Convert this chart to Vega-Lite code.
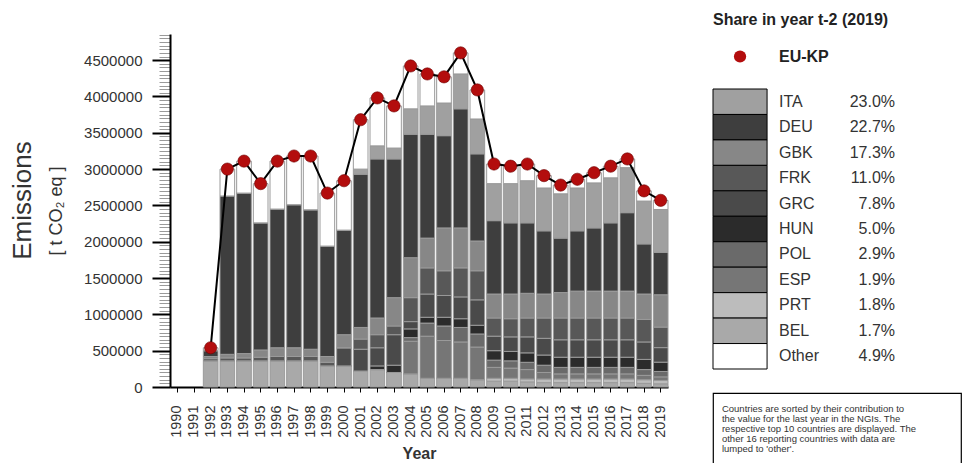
{
  "$schema": "https://vega.github.io/schema/vega-lite/v6.json",
  "padding": {"left": 9, "top": 12, "right": 0, "bottom": 0},
  "bounds": "flush",
  "spacing": 45,
  "config": {
    "view": {"stroke": null},
    "font": "Liberation Sans",
    "axis": {"labelFont": "Liberation Sans", "titleFont": "Liberation Sans"}
  },
  "hconcat": [
    {
      "width": 498,
      "height": 353,
      "data": {
        "values": [
          {"year": 1992, "BEL": 360000, "PRT": 0, "ESP": 0, "POL": 0, "HUN": 0, "GRC": 0, "FRK": 30000, "GBK": 30000, "DEU": 80000, "ITA": 0, "Other": 40000, "total": 540000},
          {"year": 1993, "BEL": 360000, "PRT": 0, "ESP": 0, "POL": 0, "HUN": 0, "GRC": 0, "FRK": 40000, "GBK": 50000, "DEU": 2180000, "ITA": 0, "Other": 370000, "total": 3000000},
          {"year": 1994, "BEL": 360000, "PRT": 0, "ESP": 0, "POL": 0, "HUN": 0, "GRC": 0, "FRK": 40000, "GBK": 60000, "DEU": 2210000, "ITA": 0, "Other": 440000, "total": 3110000},
          {"year": 1995, "BEL": 360000, "PRT": 0, "ESP": 0, "POL": 0, "HUN": 0, "GRC": 0, "FRK": 50000, "GBK": 100000, "DEU": 1750000, "ITA": 0, "Other": 540000, "total": 2800000},
          {"year": 1996, "BEL": 360000, "PRT": 0, "ESP": 0, "POL": 0, "HUN": 0, "GRC": 0, "FRK": 60000, "GBK": 120000, "DEU": 1910000, "ITA": 0, "Other": 660000, "total": 3110000},
          {"year": 1997, "BEL": 360000, "PRT": 0, "ESP": 0, "POL": 0, "HUN": 0, "GRC": 0, "FRK": 60000, "GBK": 120000, "DEU": 1970000, "ITA": 0, "Other": 670000, "total": 3180000},
          {"year": 1998, "BEL": 360000, "PRT": 0, "ESP": 0, "POL": 0, "HUN": 0, "GRC": 0, "FRK": 60000, "GBK": 100000, "DEU": 1920000, "ITA": 0, "Other": 740000, "total": 3180000},
          {"year": 1999, "BEL": 290000, "PRT": 0, "ESP": 0, "POL": 0, "HUN": 0, "GRC": 0, "FRK": 50000, "GBK": 80000, "DEU": 1520000, "ITA": 0, "Other": 730000, "total": 2670000},
          {"year": 2000, "BEL": 290000, "PRT": 0, "ESP": 0, "POL": 0, "HUN": 0, "GRC": 250000, "FRK": 0, "GBK": 180000, "DEU": 1440000, "ITA": 0, "Other": 680000, "total": 2840000},
          {"year": 2001, "BEL": 220000, "PRT": 0, "ESP": 0, "POL": 0, "HUN": 0, "GRC": 300000, "FRK": 140000, "GBK": 160000, "DEU": 2110000, "ITA": 70000, "Other": 680000, "total": 3680000},
          {"year": 2002, "BEL": 240000, "PRT": 0, "ESP": 0, "POL": 0, "HUN": 50000, "GRC": 250000, "FRK": 180000, "GBK": 230000, "DEU": 2190000, "ITA": 180000, "Other": 660000, "total": 3980000},
          {"year": 2003, "BEL": 200000, "PRT": 0, "ESP": 0, "POL": 0, "HUN": 100000, "GRC": 420000, "FRK": 120000, "GBK": 390000, "DEU": 1910000, "ITA": 150000, "Other": 580000, "total": 3870000},
          {"year": 2004, "BEL": 180000, "PRT": 0, "ESP": 450000, "POL": 50000, "HUN": 120000, "GRC": 100000, "FRK": 330000, "GBK": 550000, "DEU": 1700000, "ITA": 350000, "Other": 590000, "total": 4420000},
          {"year": 2005, "BEL": 120000, "PRT": 0, "ESP": 580000, "POL": 180000, "HUN": 80000, "GRC": 320000, "FRK": 360000, "GBK": 410000, "DEU": 1430000, "ITA": 390000, "Other": 440000, "total": 4310000},
          {"year": 2006, "BEL": 120000, "PRT": 0, "ESP": 520000, "POL": 200000, "HUN": 120000, "GRC": 300000, "FRK": 340000, "GBK": 590000, "DEU": 1270000, "ITA": 450000, "Other": 360000, "total": 4270000},
          {"year": 2007, "BEL": 120000, "PRT": 0, "ESP": 500000, "POL": 200000, "HUN": 120000, "GRC": 300000, "FRK": 400000, "GBK": 550000, "DEU": 1640000, "ITA": 480000, "Other": 290000, "total": 4600000},
          {"year": 2008, "BEL": 100000, "PRT": 0, "ESP": 450000, "POL": 180000, "HUN": 120000, "GRC": 350000, "FRK": 400000, "GBK": 410000, "DEU": 1200000, "ITA": 480000, "Other": 400000, "total": 4090000},
          {"year": 2009, "BEL": 80000, "PRT": 40000, "ESP": 150000, "POL": 100000, "HUN": 130000, "GRC": 200000, "FRK": 250000, "GBK": 330000, "DEU": 1010000, "ITA": 510000, "Other": 270000, "total": 3070000},
          {"year": 2010, "BEL": 80000, "PRT": 40000, "ESP": 140000, "POL": 100000, "HUN": 130000, "GRC": 200000, "FRK": 250000, "GBK": 340000, "DEU": 980000, "ITA": 540000, "Other": 240000, "total": 3040000},
          {"year": 2011, "BEL": 70000, "PRT": 40000, "ESP": 130000, "POL": 100000, "HUN": 130000, "GRC": 220000, "FRK": 260000, "GBK": 340000, "DEU": 970000, "ITA": 580000, "Other": 230000, "total": 3070000},
          {"year": 2012, "BEL": 60000, "PRT": 50000, "ESP": 90000, "POL": 100000, "HUN": 140000, "GRC": 230000, "FRK": 280000, "GBK": 330000, "DEU": 870000, "ITA": 590000, "Other": 170000, "total": 2910000},
          {"year": 2013, "BEL": 60000, "PRT": 50000, "ESP": 70000, "POL": 90000, "HUN": 140000, "GRC": 240000, "FRK": 300000, "GBK": 350000, "DEU": 750000, "ITA": 610000, "Other": 120000, "total": 2780000},
          {"year": 2014, "BEL": 60000, "PRT": 50000, "ESP": 70000, "POL": 90000, "HUN": 140000, "GRC": 240000, "FRK": 300000, "GBK": 370000, "DEU": 830000, "ITA": 590000, "Other": 120000, "total": 2860000},
          {"year": 2015, "BEL": 60000, "PRT": 50000, "ESP": 70000, "POL": 90000, "HUN": 140000, "GRC": 240000, "FRK": 300000, "GBK": 370000, "DEU": 870000, "ITA": 620000, "Other": 140000, "total": 2950000},
          {"year": 2016, "BEL": 60000, "PRT": 50000, "ESP": 70000, "POL": 90000, "HUN": 140000, "GRC": 240000, "FRK": 300000, "GBK": 370000, "DEU": 940000, "ITA": 620000, "Other": 160000, "total": 3040000},
          {"year": 2017, "BEL": 60000, "PRT": 50000, "ESP": 70000, "POL": 90000, "HUN": 140000, "GRC": 240000, "FRK": 300000, "GBK": 370000, "DEU": 1080000, "ITA": 620000, "Other": 120000, "total": 3140000},
          {"year": 2018, "BEL": 50000, "PRT": 50000, "ESP": 60000, "POL": 80000, "HUN": 140000, "GRC": 240000, "FRK": 310000, "GBK": 350000, "DEU": 690000, "ITA": 590000, "Other": 140000, "total": 2700000},
          {"year": 2019, "BEL": 44000, "PRT": 46000, "ESP": 49000, "POL": 75000, "HUN": 128000, "GRC": 200000, "FRK": 283000, "GBK": 445000, "DEU": 583000, "ITA": 591000, "Other": 126000, "total": 2570000}
        ]
      },
      "resolve": {"axis": {"y": "independent"}},
      "layer": [
        {
          "transform": [
            {"fold": ["BEL", "PRT", "ESP", "POL", "HUN", "GRC", "FRK", "GBK", "DEU", "ITA", "Other"], "as": ["country", "value"]},
            {"lookup": "country", "from": {"data": {"values": [
              {"country": "BEL", "rank": 1}, {"country": "PRT", "rank": 2}, {"country": "ESP", "rank": 3}, {"country": "POL", "rank": 4},
              {"country": "HUN", "rank": 5}, {"country": "GRC", "rank": 6}, {"country": "FRK", "rank": 7}, {"country": "GBK", "rank": 8},
              {"country": "DEU", "rank": 9}, {"country": "ITA", "rank": 10}, {"country": "Other", "rank": 11}
            ]}, "key": "country", "fields": ["rank"]}}
          ],
          "mark": {"type": "bar", "stroke": "#9a9a9a", "strokeWidth": 1},
          "encoding": {
            "x": {
              "field": "year", "type": "ordinal",
              "scale": {"domain": [1990,1991,1992,1993,1994,1995,1996,1997,1998,1999,2000,2001,2002,2003,2004,2005,2006,2007,2008,2009,2010,2011,2012,2013,2014,2015,2016,2017,2018,2019], "paddingInner": 0.12, "paddingOuter": 0},
              "axis": {"title": "Year", "titleFontSize": 16, "titleFontWeight": "bold", "titleColor": "#333", "titlePadding": 8, "labelAngle": 270, "labelAlign": "right", "labelBaseline": "middle", "labelFontSize": 14.5, "labelPadding": 13, "labelColor": "#333", "labelOverlap": false, "tickSize": 5, "tickColor": "#000", "domainColor": "#000", "domainWidth": 2}
            },
            "y": {
              "field": "value", "type": "quantitative", "stack": "zero",
              "scale": {"domain": [0, 4860000], "nice": false},
              "axis": {
                "orient": "left",
                "title": "[ t CO₂ eq ]", "titleFontSize": 18, "titleFontWeight": "normal", "titleColor": "#333", "titlePadding": 18,
                "values": [0,50000,100000,150000,200000,250000,300000,350000,400000,450000,500000,550000,600000,650000,700000,750000,800000,850000,900000,950000,1000000,1050000,1100000,1150000,1200000,1250000,1300000,1350000,1400000,1450000,1500000,1550000,1600000,1650000,1700000,1750000,1800000,1850000,1900000,1950000,2000000,2050000,2100000,2150000,2200000,2250000,2300000,2350000,2400000,2450000,2500000,2550000,2600000,2650000,2700000,2750000,2800000,2850000,2900000,2950000,3000000,3050000,3100000,3150000,3200000,3250000,3300000,3350000,3400000,3450000,3500000,3550000,3600000,3650000,3700000,3750000,3800000,3850000,3900000,3950000,4000000,4050000,4100000,4150000,4200000,4250000,4300000,4350000,4400000,4450000,4500000,4550000,4600000,4650000,4700000,4750000,4800000,4850000],
                "format": "d",
                "labelExpr": "datum.value % 500000 === 0 ? datum.label : ''",
                "labelFontSize": 15, "labelColor": "#333", "labelPadding": 10, "labelOverlap": false,
                "tickSize": 18,
                "tickColor": {"condition": {"test": "datum.value % 500000 === 0", "value": "#000"}, "value": "#9a9a9a"},
                "tickWidth": {"condition": {"test": "datum.value % 500000 === 0", "value": 2}, "value": 1},
                "tickDash": {"condition": {"test": "datum.value % 500000 === 0", "value": [100, 0]}, "value": [11, 40]},
                "domainColor": "#000", "domainWidth": 2, "grid": false
              }
            },
            "color": {
              "field": "country", "type": "nominal",
              "scale": {"domain": ["BEL", "PRT", "ESP", "POL", "HUN", "GRC", "FRK", "GBK", "DEU", "ITA", "Other"], "range": ["#a9a9a9", "#bcbcbc", "#767676", "#6a6a6a", "#2b2b2b", "#4a4a4a", "#585858", "#878787", "#3e3e3e", "#a0a0a0", "#ffffff"]},
              "legend": null
            },
            "order": {"field": "rank", "type": "quantitative", "sort": "ascending"}
          }
        },
        {
          "mark": {"type": "line", "color": "#000", "strokeWidth": 2},
          "encoding": {
            "x": {"field": "year", "type": "ordinal"},
            "y": {"field": "total", "type": "quantitative", "axis": {"orient": "left", "title": "Emissions", "titleFontSize": 26, "titleFontWeight": "normal", "titleColor": "#333", "titlePadding": 135, "titleY": 166, "labels": false, "ticks": false, "domain": false, "grid": false}}
          }
        },
        {
          "mark": {"type": "circle", "size": 150, "color": "#b30d0d", "opacity": 1, "stroke": "#6d0000", "strokeWidth": 0.6},
          "encoding": {
            "x": {"field": "year", "type": "ordinal"},
            "y": {"field": "total", "type": "quantitative", "axis": null}
          }
        }
      ]
    },
    {
      "bounds": "flush",
      "spacing": 24,
      "vconcat": [
        {
          "width": 248,
          "height": 31,
          "title": {"text": "Share in year t-2 (2019)", "anchor": "start", "frame": "group", "fontSize": 16, "fontWeight": "bold", "color": "#222", "offset": 6},
          "data": {"values": [{"series": "EU-KP"}]},
          "layer": [
            {
              "mark": {"type": "circle", "size": 150, "color": "#b30d0d", "opacity": 1, "yOffset": 7},
              "encoding": {"x": {"datum": 0.109, "type": "quantitative", "scale": {"domain": [0, 1]}, "axis": null}}
            },
            {
              "mark": {"type": "text", "align": "left", "baseline": "middle", "fontSize": 16, "fontWeight": "bold", "color": "#222", "yOffset": 7},
              "encoding": {"x": {"datum": 0.266, "type": "quantitative", "scale": {"domain": [0, 1]}, "axis": null}, "text": {"field": "series"}}
            }
          ]
        },
        {
          "width": 248,
          "height": 280,
          "data": {
            "values": [
              {"country": "ITA", "share": 0.230},
              {"country": "DEU", "share": 0.227},
              {"country": "GBK", "share": 0.173},
              {"country": "FRK", "share": 0.110},
              {"country": "GRC", "share": 0.078},
              {"country": "HUN", "share": 0.050},
              {"country": "POL", "share": 0.029},
              {"country": "ESP", "share": 0.019},
              {"country": "PRT", "share": 0.018},
              {"country": "BEL", "share": 0.017},
              {"country": "Other", "share": 0.049}
            ]
          },
          "encoding": {
            "y": {"field": "country", "type": "nominal", "scale": {"domain": ["ITA", "DEU", "GBK", "FRK", "GRC", "HUN", "POL", "ESP", "PRT", "BEL", "Other"], "paddingInner": 0, "paddingOuter": 0}, "axis": null}
          },
          "layer": [
            {
              "mark": {"type": "rect", "stroke": "#000", "strokeWidth": 1},
              "encoding": {
                "x": {"datum": 0, "type": "quantitative", "scale": {"domain": [0, 1]}, "axis": null},
                "x2": {"datum": 0.218},
                "fill": {"field": "country", "type": "nominal", "scale": {"domain": ["BEL", "PRT", "ESP", "POL", "HUN", "GRC", "FRK", "GBK", "DEU", "ITA", "Other"], "range": ["#a9a9a9", "#bcbcbc", "#767676", "#6a6a6a", "#2b2b2b", "#4a4a4a", "#585858", "#878787", "#3e3e3e", "#a0a0a0", "#ffffff"]}, "legend": null}
              }
            },
            {
              "mark": {"type": "text", "align": "left", "baseline": "middle", "fontSize": 16, "color": "#333"},
              "encoding": {"x": {"datum": 0.266, "type": "quantitative", "scale": {"domain": [0, 1]}, "axis": null}, "text": {"field": "country"}}
            },
            {
              "mark": {"type": "text", "align": "right", "baseline": "middle", "fontSize": 16, "color": "#333"},
              "encoding": {"x": {"datum": 0.734, "type": "quantitative", "scale": {"domain": [0, 1]}, "axis": null}, "text": {"field": "share", "type": "quantitative", "format": ".1%"}}
            }
          ]
        },
        {
          "width": 248,
          "height": 71,
          "view": {"stroke": "#000", "strokeWidth": 1.2},
          "data": {"values": [{"note": "Countries are sorted by their contribution to the value for the last year in the NGIs. The respective top 10 countries are displayed. The other 16 reporting countries with data are lumped to 'other'."}]},
          "mark": {"type": "text", "align": "left", "baseline": "middle", "fontSize": 9.5, "lineHeight": 10, "color": "#333", "yOffset": -20},
          "encoding": {
            "x": {"datum": 0.036, "type": "quantitative", "scale": {"domain": [0, 1]}, "axis": null},
            "text": {"value": ["Countries are sorted by their contribution to", "the value for the last year in the NGIs. The", "respective top 10 countries are displayed. The", "other 16 reporting countries with data are", "lumped to 'other'."]}
          }
        }
      ]
    }
  ]
}
